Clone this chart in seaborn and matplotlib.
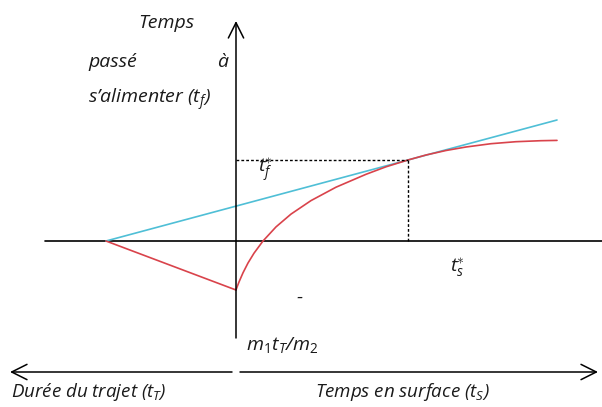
import pandas as pd
import seaborn as sns
import matplotlib.pyplot as plt

trajet_x = [-130, 0]
trajet_y = [0, -49]

gain_x = [0, 1, 3, 7, 12, 18, 27, 40, 55, 75, 100, 130, 150, 172,
          190, 210, 230, 255, 280, 305, 321]
gain_y = [-49, -46.2, -41, -31.8, -22, -12.2, 0, 14.1, 26.9, 40.4, 53.8,
          66.7, 74.2, 81, 86, 90.5, 94, 97.3, 99.3, 100.3, 100.6]

tangente_x = [-130, 321]
tangente_y = [0, 121]

ts_opt = 172
tf_opt = 81

sns.set_style('white')
plt.rcParams['font.family'] = ['Open Sans', 'DejaVu Sans']
plt.rcParams['mathtext.fontset'] = 'custom'
plt.rcParams['mathtext.rm'] = 'Open Sans'
plt.rcParams['mathtext.it'] = 'Open Sans:italic'

fig = plt.figure(figsize=(6.02, 4.07), dpi=100)
ax = fig.add_axes([0, 0, 1, 1])
ax.set_xlim(-236, 366)
ax.set_ylim(-166, 241)
ax.axis('off')

red = '#d9434b'
blue = '#4fbfd6'

# axes
ax.plot([-191, 366], [0, 0], color='black', lw=1.2)
arrow = dict(arrowstyle='->,head_length=1.1,head_width=0.55',
             color='black', lw=1.1, shrinkA=0, shrinkB=0)
ax.annotate('', xy=(0, 220), xytext=(0, -97), arrowprops=arrow)
ax.annotate('', xy=(-226, -131), xytext=(-4, -131), arrowprops=arrow)
ax.annotate('', xy=(362, -131), xytext=(4, -131), arrowprops=arrow)

# courbes
df_tan = pd.DataFrame({'x': tangente_x, 'y': tangente_y})
df_trajet = pd.DataFrame({'x': trajet_x, 'y': trajet_y})
df_gain = pd.DataFrame({'x': gain_x, 'y': gain_y})
sns.lineplot(data=df_tan, x='x', y='y', ax=ax, color=blue, lw=1.2, sort=False)
sns.lineplot(data=df_trajet, x='x', y='y', ax=ax, color=red, lw=1.2, sort=False)
sns.lineplot(data=df_gain, x='x', y='y', ax=ax, color=red, lw=1.2, sort=False)

# pointillés
ax.plot([0, ts_opt], [tf_opt, tf_opt], color='black', lw=1, dashes=(2, 1.5))
ax.plot([ts_opt, ts_opt], [0, tf_opt], color='black', lw=1, dashes=(2, 1.5))

# textes
kw = dict(fontsize=14, style='italic', va='center', ha='left', color='#1a1a1a')
ax.text(-98, 218, 'Temps', **kw)
ax.text(-148, 179, 'passé', **kw)
ax.text(-19, 179, 'à', **kw)
ax.text(-148, 141, 's’alimenter (t$_f$)', **kw)
ax.text(22, 70, 't$_f^{\\ast}$', **kw)
ax.text(214, -27, 't$_s^{\\ast}$', **kw)
ax.text(60, -57, '-', **kw)
ax.text(10, -104, 'm$_1$t$_T$/m$_2$', **kw)
kw_bas = dict(kw, fontsize=13.5)
ax.text(-225, -151, 'Durée du trajet (t$_T$)', **kw_bas)
ax.text(79, -151, 'Temps en surface (t$_S$)', **kw_bas)

fig.savefig('out.png', dpi=100)
